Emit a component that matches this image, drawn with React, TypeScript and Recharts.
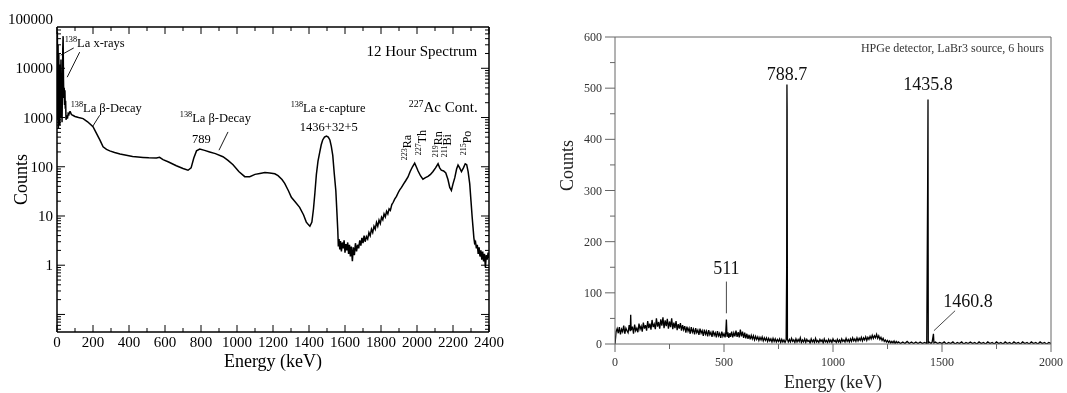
import React from 'react';
import { LineChart, Line, XAxis, YAxis, ReferenceDot, ReferenceLine } from 'recharts';

const SERIF = '"Liberation Serif", "Times New Roman", Times, serif';

// ---------- Left panel: LaBr3 12 hour spectrum [energy keV, counts] ----------
const labrLowEnergy: [number, number][] = [
  [0.5, 3000], [2, 55000], [4, 900], [6, 30000], [8, 600], [10, 20000], [12, 1500], [14, 12000],
  [16, 700], [18, 8000], [20, 2000], [22, 15000], [24, 1000], [26, 5000], [28, 800], [30, 3000],
  [32, 25000], [34, 45000], [36, 6000], [38, 2500], [40, 4000], [42, 1800], [44, 3600], [46, 1500],
  [48, 2200], [50, 900], [54, 1100], [58, 950], [62, 1200], [66, 1150], [70, 1300], [74, 1310],
  [80, 1150], [90, 1100],
];
const labrContinuum: [number, number][] = [
  [100, 1050], [120, 1000], [145, 950], [170, 820], [200, 650], [220, 470], [240, 340], [256, 255],
  [275, 225], [293, 210], [320, 195], [350, 182], [385, 172], [420, 162], [450, 158], [478, 155],
  [510, 152], [552, 150], [570, 155], [589, 140], [620, 125], [663, 105], [700, 92], [728, 85],
  [745, 95], [760, 150], [775, 210], [793, 228], [820, 215], [848, 200], [880, 185], [922, 160],
  [950, 135], [978, 110], [1010, 80], [1043, 63], [1071, 63], [1100, 70], [1127, 73], [1155, 76],
  [1182, 75], [1210, 72], [1228, 66], [1250, 55], [1265, 46], [1285, 33], [1302, 24], [1325, 19],
  [1348, 15], [1370, 10.5], [1385, 7.5], [1395, 6.8], [1405, 6.2],
];
const labrCapturePeak: [number, number][] = [
  [1416, 7.5], [1425, 14], [1433, 30], [1441, 70], [1450, 130], [1460, 200], [1468, 280], [1476, 350],
  [1486, 400], [1497, 420], [1507, 400], [1516, 350], [1524, 260], [1532, 170], [1540, 75], [1549, 33],
  [1555, 12], [1560, 5],
];
const labrHighEnergy: [number, number][] = [
  [1563, 2.4], [1567, 3.4], [1571, 2.1], [1575, 3.1], [1580, 1.9], [1585, 2.9], [1590, 2.2], [1595, 3.2],
  [1600, 1.8], [1605, 2.7], [1610, 2.0], [1615, 2.9], [1620, 1.7], [1625, 2.6], [1630, 1.5], [1635, 2.4],
  [1641, 1.2], [1646, 2.3], [1652, 1.6], [1658, 2.8], [1664, 1.9], [1670, 2.6], [1676, 2.2], [1682, 3.2],
  [1688, 2.5], [1694, 3.6], [1700, 2.8], [1706, 4.0], [1712, 3.0], [1719, 3.8], [1726, 3.4], [1733, 4.6],
  [1740, 4.0], [1747, 5.4], [1754, 4.6], [1761, 6.2], [1768, 5.4], [1775, 7.4], [1782, 6.2], [1789, 8.2],
  [1796, 7.0], [1803, 9.4], [1810, 8.4], [1817, 11], [1824, 9.6], [1831, 12.5], [1838, 11], [1845, 14],
  [1852, 13], [1860, 17], [1868, 19], [1876, 22], [1886, 25], [1896, 30], [1904, 34], [1914, 38],
  [1924, 44], [1937, 52], [1950, 62], [1962, 80], [1975, 100], [1987, 118], [1996, 100], [2006, 82],
  [2020, 65], [2033, 56], [2047, 60], [2061, 64], [2075, 70], [2089, 80], [2103, 95], [2117, 115],
  [2126, 95], [2135, 85], [2148, 82], [2160, 75], [2172, 55], [2182, 38], [2191, 33], [2200, 45],
  [2210, 60], [2220, 90], [2228, 108], [2237, 95], [2247, 80], [2258, 95], [2268, 115], [2276, 110],
  [2284, 80], [2293, 45], [2300, 20], [2306, 10], [2311, 6], [2316, 3.6], [2320, 2.8], [2325, 3.0],
  [2330, 2.2], [2335, 2.6], [2340, 1.7], [2345, 2.3], [2350, 1.5], [2355, 2.0], [2360, 1.3], [2365, 1.9],
  [2370, 1.2], [2375, 1.7], [2380, 0.9], [2385, 1.6], [2390, 1.3], [2395, 1.8], [2400, 1.4],
];

const labrXTickLabels = [0, 200, 400, 600, 800, 1000, 1200, 1400, 1600, 1800, 2000, 2200, 2400];
const labrXTicks = [0, 100, 200, 300, 400, 500, 600, 700, 800, 900, 1000, 1100, 1200, 1300, 1400, 1500, 1600, 1700, 1800, 1900, 2000, 2100, 2200, 2300, 2400];
const labrYTickLabels = [1, 10, 100, 1000, 10000, 100000];
const labrDecades = [0.01, 0.1, 1, 10, 100, 1000, 10000];
const LOG_MIN = 0.044;
const LOG_MAX = 69000;
const labrYTicks: number[] = [];
labrDecades.forEach((d) => {
  for (let m = 1; m < 10; m++) {
    const v = +(d * m).toPrecision(3);
    if (v >= LOG_MIN && v <= LOG_MAX) labrYTicks.push(v);
  }
});

// ---------- Right panel: HPGe 6 hour spectrum [energy keV, counts] ----------
const hpgeLow: [number, number][] = [
  [0, 0], [3, 14], [5, 24], [10, 30], [15, 21], [20, 33], [25, 19], [30, 29], [35, 24], [40, 36],
  [45, 20], [50, 31], [55, 26], [60, 22], [65, 37], [70, 25], [72, 57], [74, 27], [80, 34], [85, 20],
  [90, 38], [95, 26], [100, 31], [105, 23], [110, 40], [115, 29], [120, 35], [125, 24], [130, 42],
  [135, 30], [140, 37], [145, 26], [150, 45], [155, 31], [160, 40], [165, 28], [170, 47], [175, 33],
  [180, 39], [185, 29], [190, 50], [195, 34], [200, 43], [205, 30], [210, 48], [215, 36], [220, 52],
  [225, 31], [230, 46], [235, 35], [240, 49], [245, 30], [250, 44], [255, 33], [260, 50], [265, 29],
  [270, 42], [275, 31], [280, 45], [285, 27], [290, 39], [295, 30], [300, 41], [305, 26], [310, 37],
  [315, 28], [320, 35], [325, 22], [330, 34], [335, 25], [340, 31], [345, 20], [350, 33], [355, 23],
  [360, 29], [365, 19], [370, 31], [375, 22], [380, 27], [385, 18], [390, 30], [395, 21], [400, 26],
  [405, 16], [410, 28], [415, 19], [420, 25], [425, 15], [430, 27], [435, 18], [440, 23], [445, 14],
  [450, 26], [455, 17], [460, 22], [465, 13], [470, 25], [475, 16], [480, 21], [485, 12], [490, 24],
  [495, 15], [500, 20], [505, 13], [508, 22], [511, 48], [514, 14], [518, 23], [522, 12], [526, 21],
  [530, 14], [535, 24], [540, 13], [545, 22], [550, 15], [555, 26], [560, 14], [565, 23], [570, 13],
  [575, 28], [580, 15], [585, 24], [590, 12], [595, 22], [600, 11], [605, 20], [610, 10], [615, 18],
  [620, 9], [625, 17], [630, 10], [635, 16], [640, 8], [645, 15], [650, 9], [655, 14], [660, 7],
  [665, 13], [670, 8], [675, 14], [680, 6], [685, 12], [690, 7], [695, 12], [700, 5], [705, 11],
  [710, 6], [715, 10], [720, 4], [725, 11], [730, 5], [735, 10], [740, 4], [745, 9], [750, 5],
  [755, 10], [760, 3], [765, 9], [770, 4], [775, 8], [780, 3], [785, 8],
];
const hpgeMid: [number, number][] = [
  [787.5, 150], [788.7, 507], [789.5, 460], [791, 9], [795, 4], [800, 9], [805, 4], [810, 11], [815, 5],
  [820, 8], [825, 3], [830, 10], [835, 4], [840, 9], [845, 5], [850, 12], [855, 3], [860, 8], [865, 4],
  [870, 10], [875, 3], [880, 9], [885, 5], [890, 7], [895, 2], [900, 10], [905, 4], [910, 8], [915, 3],
  [920, 11], [925, 4], [930, 7], [935, 3], [940, 9], [945, 5], [950, 8], [955, 2], [960, 10], [965, 4],
  [970, 7], [975, 3], [980, 9], [985, 4], [990, 8], [995, 3], [1000, 10], [1005, 5], [1010, 7],
  [1015, 3], [1020, 9], [1025, 4], [1030, 8], [1035, 3], [1040, 10], [1045, 5], [1050, 8], [1055, 4],
  [1060, 11], [1065, 5], [1070, 9], [1075, 4], [1080, 10], [1085, 5], [1090, 12], [1095, 6], [1100, 10],
  [1105, 5], [1110, 12], [1115, 6], [1120, 11], [1125, 7], [1130, 13], [1135, 6], [1140, 12], [1145, 8],
  [1150, 14], [1155, 7], [1160, 13], [1165, 9], [1170, 15], [1175, 10], [1180, 17], [1185, 11],
  [1190, 16], [1195, 12], [1200, 19], [1205, 11], [1210, 16], [1215, 9], [1220, 13], [1225, 7],
  [1230, 11], [1235, 5], [1240, 8], [1245, 4], [1250, 7], [1255, 3], [1260, 6], [1265, 2], [1270, 5],
  [1275, 2], [1280, 6], [1285, 1], [1290, 5], [1295, 2], [1300, 4], [1310, 1], [1320, 4], [1330, 1],
  [1340, 5], [1350, 1], [1360, 4], [1370, 1], [1380, 4], [1390, 1], [1400, 4], [1410, 1], [1420, 3],
  [1430, 1],
];
const hpgeHigh: [number, number][] = [
  [1434, 300], [1435.8, 478], [1437, 2], [1440, 4], [1450, 1], [1455, 4], [1460.8, 20], [1463, 2],
  [1470, 4], [1480, 1], [1490, 3], [1500, 1], [1510, 4], [1520, 0], [1530, 3], [1540, 1], [1550, 4],
  [1560, 0], [1570, 3], [1580, 1], [1590, 4], [1600, 0], [1610, 3], [1620, 1], [1630, 4], [1640, 1],
  [1650, 3], [1660, 0], [1670, 4], [1680, 1], [1690, 3], [1700, 0], [1710, 4], [1720, 1], [1730, 3],
  [1740, 0], [1750, 4], [1760, 1], [1770, 3], [1780, 0], [1790, 4], [1800, 1], [1810, 3], [1820, 0],
  [1830, 4], [1840, 1], [1850, 3], [1860, 0], [1870, 4], [1880, 1], [1890, 3], [1900, 0], [1910, 4],
  [1920, 1], [1930, 3], [1940, 0], [1950, 4], [1960, 1], [1970, 3], [1980, 0], [1990, 3], [2000, 1],
];
const hpgeXTicks = [0, 250, 500, 750, 1000, 1250, 1500, 1750, 2000];
const hpgeXTickLabels = [0, 500, 1000, 1500, 2000];
const hpgeYTicks = [0, 50, 100, 150, 200, 250, 300, 350, 400, 450, 500, 550, 600];
const hpgeYTickLabels = [0, 100, 200, 300, 400, 500, 600];

const labrData = [...labrLowEnergy, ...labrContinuum, ...labrCapturePeak, ...labrHighEnergy].map(([e, c]) => ({ e, c }));
const hpgeData = [...hpgeLow, ...hpgeMid, ...hpgeHigh].map(([e, c]) => ({ e, c }));

// ---------- annotations ----------
type Note = { e: number; c: number; sup?: string; text: string; size: number; anchor?: 'start' | 'middle' | 'end'; rotate?: boolean };
const labrNotes: Note[] = [
  { e: 42.8, c: 27000, sup: '138', text: 'La x-rays', size: 12.5 },
  { e: 76, c: 1306, sup: '138', text: 'La \u03b2-Decay', size: 12.5 },
  { e: 682, c: 818, sup: '138', text: 'La \u03b2-Decay', size: 12.5 },
  { e: 802, c: 302, text: '789', size: 12.5, anchor: 'middle' },
  { e: 1298, c: 1306, sup: '138', text: 'La \u03b5-capture', size: 12.5 },
  { e: 1510, c: 536, text: '1436+32+5', size: 12.5, anchor: 'middle' },
  { e: 1719, c: 17700, text: '12 Hour Spectrum', size: 15 },
  { e: 1954, c: 1270, sup: '227', text: 'Ac Cont.', size: 15 },
  { e: 1968, c: 136, sup: '223', text: 'Ra', size: 12, rotate: true },
  { e: 2048, c: 172, sup: '227', text: 'Th', size: 12, rotate: true },
  { e: 2140, c: 157, sup: '219', text: 'Rn', size: 12, rotate: true },
  { e: 2190, c: 157, sup: '211', text: 'Bi', size: 12, rotate: true },
  { e: 2298, c: 172, sup: '215', text: 'Po', size: 12, rotate: true },
];
const labrLeaders: [number, number, number, number][] = [
  [20.6, 18500, 93, 25900],
  [56.7, 6600, 126, 21300],
  [196.7, 646, 237, 1110],
  [900, 217, 950, 510],
];
const hpgeNotes: Note[] = [
  { e: 788.7, c: 516, text: '788.7', size: 18, anchor: 'middle' },
  { e: 1435.8, c: 497, text: '1435.8', size: 18, anchor: 'middle' },
  { e: 511, c: 137, text: '511', size: 18, anchor: 'middle' },
  { e: 1506, c: 73, text: '1460.8', size: 18 },
  { e: 1968, c: 571, text: 'HPGe detector, LaBr3 source, 6 hours', size: 12, anchor: 'end' },
];
const hpgeLeaders: [number, number, number, number][] = [
  [511, 60, 511, 122],
  [1463, 26, 1560, 65],
];

function RichText({ x, y, sup, text, size, anchor = 'start', rotate = false, fill = '#000' }: any) {
  const supSize = size * 0.66;
  const shift = size * 0.38;
  return (
    <text x={x} y={y} textAnchor={anchor} fontFamily={SERIF} fontSize={size} fill={fill}
      transform={rotate ? `rotate(-90 ${x} ${y})` : undefined}>
      {sup ? (
        <>
          <tspan fontSize={supSize} dy={-shift} fill={fill}>{sup}</tspan>
          <tspan dy={shift} fill={fill}>{text}</tspan>
        </>
      ) : text}
    </text>
  );
}

const noteLabel = (n: Note, fill = '#000') => (props: any) => {
  const vb = props.viewBox || {};
  const x = (vb.x ?? 0) + (vb.width ?? 0) / 2;
  const y = (vb.y ?? 0) + (vb.height ?? 0) / 2;
  return <RichText x={x} y={y} sup={n.sup} text={n.text} size={n.size} anchor={n.anchor || 'start'} rotate={n.rotate} fill={fill} />;
};

const isDecade = (v: number) => Math.abs(Math.log10(v) - Math.round(Math.log10(v))) < 1e-6;

const LabrLeftTick = (p: any) => {
  const { x, y, payload } = p;
  const v = payload.value;
  const major = isDecade(v);
  const show = major && labrYTickLabels.includes(v);
  return (
    <g>
      <line x1={x} y1={y} x2={x + (major ? 8 : 4)} y2={y} stroke="#000" strokeWidth={1} />
      {show && <text x={x - 4} y={y + 5} textAnchor="end" fontFamily={SERIF} fontSize={15} fill="#000">{String(v)}</text>}
    </g>
  );
};
const LabrRightTick = (p: any) => {
  const { x, y, payload } = p;
  const major = isDecade(payload.value);
  return <line x1={x} y1={y} x2={x - (major ? 8 : 4)} y2={y} stroke="#000" strokeWidth={1} />;
};
const LabrBottomTick = (p: any) => {
  const { x, y, payload } = p;
  const v = payload.value;
  const major = labrXTickLabels.includes(v);
  return (
    <g>
      <line x1={x} y1={y} x2={x} y2={y - (major ? 7 : 4)} stroke="#000" strokeWidth={1} />
      {major && <text x={x} y={y + 15} textAnchor="middle" fontFamily={SERIF} fontSize={15} fill="#000">{String(v)}</text>}
    </g>
  );
};
const LabrTopTick = (p: any) => {
  const { x, y, payload } = p;
  const major = labrXTickLabels.includes(payload.value);
  return <line x1={x} y1={y} x2={x} y2={y + (major ? 7 : 4)} stroke="#000" strokeWidth={1} />;
};

const HpgeLeftTick = (p: any) => {
  const { x, y, payload } = p;
  const v = payload.value;
  const major = hpgeYTickLabels.includes(v);
  return (
    <g>
      <line x1={x} y1={y} x2={x - (major ? 10 : 5)} y2={y} stroke="#666" strokeWidth={1} />
      {major && <text x={x - 13} y={y + 4} textAnchor="end" fontFamily={SERIF} fontSize={12} fill="#333">{String(v)}</text>}
    </g>
  );
};
const HpgeBottomTick = (p: any) => {
  const { x, y, payload } = p;
  const v = payload.value;
  const major = hpgeXTickLabels.includes(v);
  return (
    <g>
      <line x1={x} y1={y} x2={x} y2={y + (major ? 8 : 5)} stroke="#666" strokeWidth={1} />
      {major && <text x={x} y={y + 22} textAnchor="middle" fontFamily={SERIF} fontSize={12} fill="#333">{String(v)}</text>}
    </g>
  );
};

const yTitle = (dx: number, dy: number, fill: string) => (props: any) => {
  const vb = props.viewBox || {};
  const x = (vb.x ?? 0) + dx;
  const y = (vb.y ?? 0) + (vb.height ?? 0) / 2 + dy;
  return (
    <text x={x} y={y} textAnchor="middle" fontFamily={SERIF} fontSize={18} fill={fill} transform={`rotate(-90 ${x} ${y})`}>Counts</text>
  );
};
const xTitle = (dy: number, fill: string) => (props: any) => {
  const vb = props.viewBox || {};
  const x = (vb.x ?? 0) + (vb.width ?? 0) / 2;
  const y = (vb.y ?? 0) + dy;
  return <text x={x} y={y} textAnchor="middle" fontFamily={SERIF} fontSize={18} fill={fill}>Energy (keV)</text>;
};

export default function App() {
  return (
    <div style={{ position: 'absolute', left: 0, top: 0, width: 1067, height: 393, background: '#fff', filter: 'grayscale(1)' }}>
      <div style={{ position: 'absolute', left: 0, top: 0 }}>
        <LineChart width={530} height={393} data={labrData} margin={{ top: 0, right: 0, bottom: 0, left: 0 }}>
          <XAxis dataKey="e" type="number" domain={[0, 2400]} allowDataOverflow ticks={labrXTicks} interval={0}
            height={61} tickSize={0} tickMargin={0} tickLine={false} tick={LabrBottomTick}
            axisLine={{ stroke: '#000', strokeWidth: 1.5 }} label={xTitle(34.7, '#000')} />
          <XAxis xAxisId="top" orientation="top" dataKey="e" type="number" domain={[0, 2400]} allowDataOverflow
            ticks={labrXTicks} interval={0} height={27} tickSize={0} tickMargin={0} tickLine={false} tick={LabrTopTick}
            axisLine={{ stroke: '#000', strokeWidth: 1.5 }} />
          <YAxis scale="log" type="number" domain={[LOG_MIN, LOG_MAX]} allowDataOverflow ticks={labrYTicks} interval={0}
            width={57} tickSize={0} tickMargin={0} tickLine={false} tick={LabrLeftTick}
            axisLine={{ stroke: '#000', strokeWidth: 1.5 }} label={yTitle(26.7, 0, '#000')} />
          <YAxis yAxisId="r" orientation="right" scale="log" type="number" domain={[LOG_MIN, LOG_MAX]} allowDataOverflow
            ticks={labrYTicks} interval={0} width={41} tickSize={0} tickMargin={0} tickLine={false} tick={LabrRightTick}
            axisLine={{ stroke: '#000', strokeWidth: 1.5 }} />
          <Line dataKey="c" type="linear" stroke="#000" strokeWidth={1.5} dot={false} isAnimationActive={false} />
          <ReferenceDot x={0} y={100000} r={0} fill="none" stroke="none" ifOverflow="visible"
            label={(props: any) => {
              const vb = props.viewBox || {};
              return <text x={(vb.x ?? 0) - 4} y={(vb.y ?? 0) + 5} textAnchor="end" fontFamily={SERIF} fontSize={15} fill="#000">100000</text>;
            }} />
          {labrLeaders.map(([x1, y1, x2, y2], i) => (
            <ReferenceLine key={`ll${i}`} segment={[{ x: x1, y: y1 }, { x: x2, y: y2 }]} stroke="#000" strokeWidth={0.9} ifOverflow="visible" />
          ))}
          {labrNotes.map((n, i) => (
            <ReferenceDot key={`ln${i}`} x={n.e} y={n.c} r={0} fill="none" stroke="none" ifOverflow="visible" label={noteLabel(n)} />
          ))}
        </LineChart>
      </div>
      <div style={{ position: 'absolute', left: 540, top: 0 }}>
        <LineChart width={527} height={393} data={hpgeData} margin={{ top: 0, right: 0, bottom: 0, left: 0 }}>
          <XAxis dataKey="e" type="number" domain={[0, 2000]} allowDataOverflow ticks={hpgeXTicks} interval={0}
            height={49} tickSize={0} tickMargin={0} tickLine={false} tick={HpgeBottomTick}
            axisLine={{ stroke: '#666', strokeWidth: 1 }} label={xTitle(44, '#222')} />
          <XAxis xAxisId="top" orientation="top" dataKey="e" type="number" domain={[0, 2000]} allowDataOverflow
            height={37} tick={false} tickLine={false} axisLine={{ stroke: '#666', strokeWidth: 1 }} />
          <YAxis type="number" domain={[0, 600]} allowDataOverflow ticks={hpgeYTicks} interval={0}
            width={75} tickSize={0} tickMargin={0} tickLine={false} tick={HpgeLeftTick}
            axisLine={{ stroke: '#666', strokeWidth: 1 }} label={yTitle(33.3, -25, '#222')} />
          <YAxis yAxisId="r" orientation="right" type="number" domain={[0, 600]} allowDataOverflow
            width={16} tick={false} tickLine={false} axisLine={{ stroke: '#666', strokeWidth: 1 }} />
          <Line dataKey="c" type="linear" stroke="#000" strokeWidth={1.3} dot={false} isAnimationActive={false} />
          {hpgeLeaders.map(([x1, y1, x2, y2], i) => (
            <ReferenceLine key={`hl${i}`} segment={[{ x: x1, y: y1 }, { x: x2, y: y2 }]} stroke="#333" strokeWidth={0.9} ifOverflow="visible" />
          ))}
          {hpgeNotes.map((n, i) => (
            <ReferenceDot key={`hn${i}`} x={n.e} y={n.c} r={0} fill="none" stroke="none" ifOverflow="visible"
              label={noteLabel(n, n.size < 14 ? '#333' : '#111')} />
          ))}
        </LineChart>
      </div>
    </div>
  );
}
